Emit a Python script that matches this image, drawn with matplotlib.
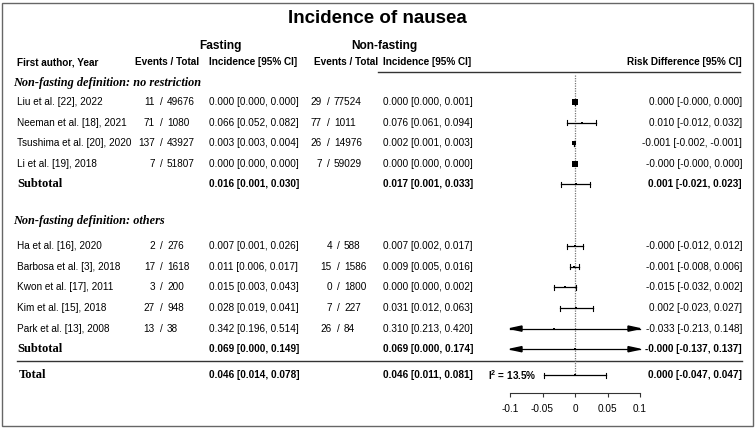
import numpy as np
import matplotlib
matplotlib.use("Agg")
import matplotlib.pyplot as plt
from matplotlib.patches import Rectangle, Polygon

plt.rcParams["mathtext.fontset"] = "custom"
plt.rcParams["mathtext.rm"] = "Liberation Sans"
plt.rcParams["mathtext.bf"] = "Liberation Sans:bold"

# ---------------- data ----------------
group_titles = ["Non-fasting definition: no restriction", "Non-fasting definition: others"]
study = ["Liu et al. [22], 2022", "Neeman et al. [18], 2021", "Tsushima et al. [20], 2020",
         "Li et al. [19], 2018", "Ha et al. [16], 2020", "Barbosa et al. [3], 2018",
         "Kwon et al. [17], 2011", "Kim et al. [15], 2018", "Park et al. [13], 2008"]
group = [0, 0, 0, 0, 1, 1, 1, 1, 1]

fast_events = [11, 71, 137, 7, 2, 17, 3, 27, 13]
fast_total = [49676, 1080, 43927, 51807, 276, 1618, 200, 948, 38]
fast_p = [0.000, 0.066, 0.003, 0.000, 0.007, 0.011, 0.015, 0.028, 0.342]
fast_lo = [0.000, 0.052, 0.003, 0.000, 0.001, 0.006, 0.003, 0.019, 0.196]
fast_hi = [0.000, 0.082, 0.004, 0.000, 0.026, 0.017, 0.043, 0.041, 0.514]

nonfast_events = [29, 77, 26, 7, 4, 15, 0, 7, 26]
nonfast_total = [77524, 1011, 14976, 59029, 588, 1586, 1800, 227, 84]
nonfast_p = [0.000, 0.076, 0.002, 0.000, 0.007, 0.009, 0.000, 0.031, 0.310]
nonfast_lo = [0.000, 0.061, 0.001, 0.000, 0.002, 0.005, 0.000, 0.012, 0.213]
nonfast_hi = [0.001, 0.094, 0.003, 0.000, 0.017, 0.016, 0.002, 0.063, 0.420]

rd = [0.000, 0.010, -0.001, -0.0, -0.0, -0.001, -0.015, 0.002, -0.033]
rd_lo = [-0.0, -0.012, -0.002, -0.0, -0.012, -0.008, -0.032, -0.023, -0.213]
rd_hi = [0.000, 0.032, -0.001, 0.000, 0.012, 0.006, 0.002, 0.027, 0.148]
weight = [30, 1.5, 9, 28, 2, 3, 1.5, 1.2, 0.8]   # relative study weights (approx.)

sub_fast = [0.016, 0.069]
sub_fast_lo = [0.001, 0.000]
sub_fast_hi = [0.030, 0.149]
sub_nonfast = [0.017, 0.069]
sub_nonfast_lo = [0.001, 0.000]
sub_nonfast_hi = [0.033, 0.174]
sub_rd = [0.001, -0.0]
sub_rd_lo = [-0.021, -0.137]
sub_rd_hi = [0.023, 0.137]

tot_fast = [0.046, 0.014, 0.078]
tot_nonfast = [0.046, 0.011, 0.081]
tot_rd = [0.000, -0.047, 0.047]
i2 = 13.5

xticks = [-0.1, -0.05, 0, 0.05, 0.1]
xtick_labels = ["-0.1", "-0.05", "0", "0.05", "0.1"]

# ---------------- layout (pixels) ----------------
W, H = 755, 428
SANS = "Liberation Sans"
SERIF = "Liberation Serif"
FS = 7.2
step = 20.6
y_head1 = 83
y_first = 102
x_name = 17
x_fslash, x_finc = 161, 209
x_nslash = [328, 338]
x_ninc = 383
x_rd = 742
f_x0, f_x1, f_axis = 510, 640, 393

# row positions: studies, subtotal, gap, next heading
rows = []
sub_y = []
head_y = [y_head1]
y = y_first
for g in range(2):
    for i in range(len(study)):
        if group[i] == g:
            rows.append(y)
            y += step
    sub_y.append(y)
    if g == 0:
        head_y.append(y + 1.8 * step)
        y += 3 * step
y_sep = sub_y[1] + 12
y_total = sub_y[1] + 26

fig = plt.figure(figsize=(W / 100, H / 100), dpi=100)
tab = fig.add_axes([0, 0, 1, 1])
tab.set_xlim(0, W)
tab.set_ylim(H, 0)
tab.axis("off")


def txt(x, y, s, ha="left", bold=False, fam=SANS, size=FS, style="normal"):
    tab.text(x, y, s, ha=ha, va="center", fontsize=size, family=fam,
             fontweight="bold" if bold else "normal", fontstyle=style)


def ci(p, lo, hi):
    return f"{p:.3f} [{lo:.3f}, {hi:.3f}]"


def ev(x, y, a, b):
    txt(x - 6, y, str(a), ha="right")
    txt(x, y, "/", ha="center")
    txt(x + 6, y, str(b))


# titles and headers
txt(W / 2, 18, "Incidence of nausea", ha="center", bold=True, size=13.5)
txt(220, 46, "Fasting", ha="center", bold=True, size=8.6)
txt(384, 46, "Non-fasting", ha="center", bold=True, size=8.6)
txt(x_name, 62, "First author, Year", bold=True)
txt(167, 62, "Events / Total", ha="center", bold=True)
txt(x_finc, 62, "Incidence [95% CI]", bold=True)
txt(346, 62, "Events / Total", ha="center", bold=True)
txt(x_ninc, 62, "Incidence [95% CI]", bold=True)
txt(x_rd, 62, "Risk Difference [95% CI]", ha="right", bold=True)
tab.plot([378, 740], [72, 72], color="#333333", lw=1)

for g in range(2):
    txt(13, head_y[g], group_titles[g], bold=True, fam=SERIF, size=8.8, style="italic")

for i, yy in enumerate(rows):
    txt(x_name, yy, study[i])
    ev(x_fslash, yy, fast_events[i], fast_total[i])
    txt(x_finc, yy, ci(fast_p[i], fast_lo[i], fast_hi[i]))
    ev(x_nslash[group[i]], yy, nonfast_events[i], nonfast_total[i])
    txt(x_ninc, yy, ci(nonfast_p[i], nonfast_lo[i], nonfast_hi[i]))
    txt(x_rd, yy, ci(rd[i], rd_lo[i], rd_hi[i]), ha="right")

for g in range(2):
    yy = sub_y[g]
    txt(x_name, yy, "Subtotal", bold=True, fam=SERIF, size=9)
    txt(x_finc, yy, ci(sub_fast[g], sub_fast_lo[g], sub_fast_hi[g]), bold=True)
    txt(x_ninc, yy, ci(sub_nonfast[g], sub_nonfast_lo[g], sub_nonfast_hi[g]), bold=True)
    txt(x_rd, yy, ci(sub_rd[g], sub_rd_lo[g], sub_rd_hi[g]), ha="right", bold=True)

tab.plot([x_name, 742], [y_sep, y_sep], color="#333333", lw=1)
txt(x_name + 2, y_total, "Total", bold=True, fam=SERIF, size=9)
txt(x_finc, y_total, ci(*tot_fast), bold=True)
txt(x_ninc, y_total, ci(*tot_nonfast), bold=True)
txt(x_rd, y_total, ci(*tot_rd), ha="right", bold=True)
txt(537, y_total, r"$\mathbf{I^2}$ = " + f"{i2}%", ha="right", bold=True)

# ---------------- forest panel ----------------
fp = fig.add_axes([f_x0 / W, (H - f_axis) / H, (f_x1 - f_x0) / W, f_axis / H])
fp.set_xlim(-0.1, 0.1)
fp.set_ylim(f_axis, 0)
fp.patch.set_visible(False)
for s in ["top", "left", "right"]:
    fp.spines[s].set_visible(False)
fp.spines["bottom"].set_color("#333333")
fp.spines["bottom"].set_linewidth(0.8)
fp.set_yticks([])
fp.set_xticks(xticks)
fp.set_xticklabels(xtick_labels, fontsize=FS, family=SANS)
fp.tick_params(axis="x", length=3, width=0.8, pad=5, color="#333333")

fp.plot([0, 0], [75, y_total], ls=(0, (1, 1)), color="#777777", lw=0.9, clip_on=False)

lo_lim, hi_lim = fp.get_xlim()
head_len = 12 / (f_x1 - f_x0) * (hi_lim - lo_lim)


def forest_row(y, p, lo, hi, msize):
    a, b = max(lo, lo_lim), min(hi, hi_lim)
    fp.plot([a, b], [y, y], color="black", lw=0.9, clip_on=False)
    for end, clipped, sgn in [(a, lo < lo_lim, 1), (b, hi > hi_lim, -1)]:
        if clipped:
            fp.add_patch(Polygon([[end, y], [end + sgn * head_len, y - 2.6],
                                  [end + sgn * head_len, y + 2.6]],
                                 closed=True, color="black", clip_on=False))
        else:
            fp.plot([end, end], [y - 2.5, y + 2.5], color="black", lw=0.8, clip_on=False)
    fp.plot([p], [y], marker="s", color="black", ms=msize, mew=0, clip_on=False)


for i, yy in enumerate(rows):
    forest_row(yy, rd[i], rd_lo[i], rd_hi[i], max(1.8, 0.87 * np.sqrt(weight[i])))
for g in range(2):
    forest_row(sub_y[g], sub_rd[g], sub_rd_lo[g], sub_rd_hi[g], 1.8)
forest_row(y_total, tot_rd[0], tot_rd[1], tot_rd[2], 1.8)

# frame around figure
fig.patches.append(Rectangle((2 / W, 2 / H), (W - 4) / W, (H - 5) / H, transform=fig.transFigure,
                             fill=False, edgecolor="#666666", lw=1))

fig.savefig("out.png", dpi=100)
